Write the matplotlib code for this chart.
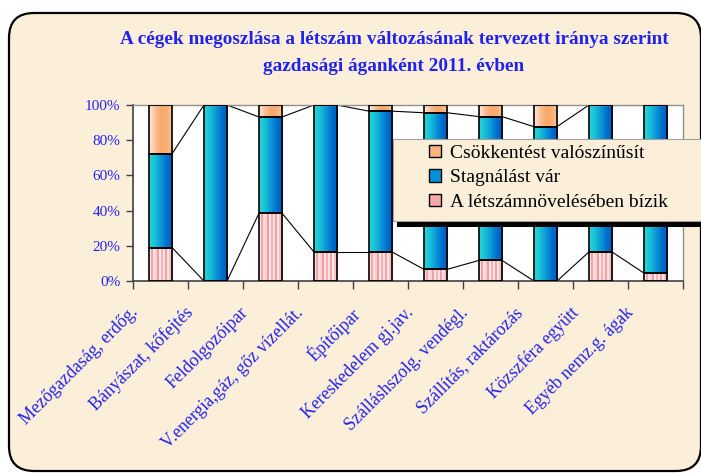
import numpy as np
import matplotlib
matplotlib.use("Agg")
import matplotlib.pyplot as plt
from matplotlib.patches import FancyBboxPatch, Rectangle, Patch
from matplotlib.colors import to_rgb
import matplotlib.transforms as mtransforms

# ---------------- data ----------------
categories = ["Mezőgazdaság, erdőg.", "Bányászat, kőfejtés", "Feldolgozóipar",
              "V.energia,gáz, gőz vízellát.", "Építőipar", "Kereskedelem gj.jav.",
              "Szálláshszolg. vendégl.", "Szállítás, raktározás",
              "Közszféra együtt", "Egyéb nemz.g. ágak"]
noveles = [19.0, 0.0, 38.5, 16.5, 16.5, 6.6, 11.7, 0.0, 16.5, 4.5]
stagnal = [53.3, 100.0, 54.7, 83.5, 80.0, 89.0, 81.7, 87.7, 83.5, 95.5]
csokkent = [27.7, 0.0, 6.8, 0.0, 3.5, 4.4, 6.6, 12.3, 0.0, 0.0]
series_names = ["A létszámnövelésében bízik", "Stagnálást vár", "Csökkentést valószínűsít"]
yticks = [0, 20, 40, 60, 80, 100]
ytick_labels = ["0%", "20%", "40%", "60%", "80%", "100%"]
title1 = "A cégek megoszlása a létszám változásának tervezett iránya szerint"
title2 = "gazdasági áganként 2011. évben"

SERIF = ["Liberation Serif", "DejaVu Serif"]
BLUE = "#2222EE"
BG = "#FBEFD9"

W, H = 701, 473
fig = plt.figure(figsize=(W / 100, H / 100), dpi=100)
fig.patch.set_facecolor("white")
inch = fig.dpi_scale_trans


def px(x, y):
    return x / 100, (H - y) / 100


# frame
x0, y0 = px(9, 471)
frame = FancyBboxPatch((x0, y0), (701 - 9) / 100, (471 - 13) / 100,
                       boxstyle="round,pad=0,rounding_size=0.25",
                       transform=inch, facecolor=BG, edgecolor="black",
                       linewidth=1.6, zorder=-10)
fig.patches.append(frame)

ax = fig.add_axes([133 / W, 1 - 281 / H, 550 / W, 176 / H])
ax.set_zorder(1)
ax.set_facecolor("white")

x = np.arange(len(categories))
width = 0.42

nov = np.array(noveles)
sta = np.array(stagnal)
cso = np.array(csokkent)


def grad_img(colors, n=64):
    cols = np.array([to_rgb(c) for c in colors])
    pos = np.linspace(0, 1, len(cols))
    t = np.linspace(0, 1, n)
    img = np.stack([np.interp(t, pos, cols[:, k]) for k in range(3)], axis=-1)
    return img[np.newaxis, :, :]


orange_img = grad_img(["#FFE8E0", "#FBC09A", "#F8A868", "#F8AE74", "#FBC89E"])
blue_img = grad_img(["#2AD6D2", "#18C0D8", "#0C98D8", "#0070CC", "#0058C0"])
stripe_cols = ["#FFE4E4", "#F7A3A6", "#FFE0E0", "#FBD0D0", "#F49AA0", "#FFE8E8",
               "#F8B0B2", "#FFE0E0", "#F6A0A4", "#FFE6E6", "#FAC0C0", "#F39CA0"]
stripe_img = np.array([[to_rgb(c) for c in stripe_cols]])

layers = [(nov, np.zeros_like(nov), stripe_img, "nearest"),
          (sta, nov, blue_img, "bilinear"),
          (cso, nov + sta, orange_img, "bilinear")]

for vals, bottoms, img, interp in layers:
    bars = ax.bar(x, vals, width, bottom=bottoms, facecolor="none",
                  edgecolor="black", linewidth=1.2, zorder=3)
    for r in bars:
        if r.get_height() <= 0:
            continue
        ax.imshow(img, extent=(r.get_x(), r.get_x() + r.get_width(),
                               r.get_y(), r.get_y() + r.get_height()),
                  aspect="auto", interpolation=interp, zorder=2)

# series lines
for tops in [nov, nov + sta]:
    for i in range(len(x) - 1):
        ax.plot([x[i] + width / 2, x[i + 1] - width / 2], [tops[i], tops[i + 1]],
                color="black", linewidth=0.8, zorder=2.5)

ax.set_xlim(-0.5, len(x) - 0.5)
ax.set_ylim(0, 100)
ax.set_yticks(yticks)
ax.set_yticklabels(ytick_labels, fontfamily=SERIF, fontsize=11, color=BLUE)
ax.tick_params(axis="y", length=5, width=1, color="#404040", pad=4)

ax.set_xticks(x)
ax.set_xticklabels(categories, rotation=45, ha="right", va="top",
                   rotation_mode="anchor", fontfamily=SERIF, fontsize=12.8,
                   color=BLUE)
ax.tick_params(axis="x", which="major", length=0, pad=0)
ax.set_xticks(np.arange(-0.5, len(x), 1.0), minor=True)
ax.tick_params(axis="x", which="minor", length=6, width=1, color="#404040")
offset = mtransforms.ScaledTranslation(-0.31, -0.23, inch)
for lab in ax.get_xticklabels():
    lab.set_transform(lab.get_transform() + offset)

for s in ["left", "bottom"]:
    ax.spines[s].set_color("#404040")
    ax.spines[s].set_linewidth(1.2)
for s in ["top", "right"]:
    ax.spines[s].set_color("#909090")
    ax.spines[s].set_linewidth(1.0)

# title
tx, ty = px(394, 39)
fig.text(tx, ty, title1, transform=inch, ha="center", va="center",
         fontfamily=SERIF, fontsize=13.9, fontweight="bold", color=BLUE)
tx, ty = px(394, 66)
fig.text(tx, ty, title2, transform=inch, ha="center", va="center",
         fontfamily=SERIF, fontsize=13.9, fontweight="bold", color=BLUE)

# legend box + shadow
sx, sy = px(397, 227)
fig.patches.append(Rectangle((sx, sy), 3.2, 0.07, transform=inch,
                             facecolor="black", edgecolor="none", zorder=5))
lx, ly = px(393, 221)
fig.patches.append(Rectangle((lx, ly), 3.2, 0.82, transform=inch,
                             facecolor=BG, edgecolor="#A0A0A0",
                             linewidth=0.8, zorder=6))

fills = ["#F7A7AA", "#0A90D6", "#F9B47E"]
handles = [Patch(facecolor=fills[i], edgecolor="black", linewidth=1.0)
           for i in (2, 1, 0)]
labels = [series_names[i] for i in (2, 1, 0)]
ax_x, ax_y = px(429, 145)
leg = fig.legend(handles, labels, loc="upper left", bbox_to_anchor=(ax_x, ax_y),
                 bbox_transform=inch, frameon=False, borderpad=0,
                 borderaxespad=0, handlelength=0.6, handleheight=0.6,
                 handletextpad=0.5, labelspacing=0.38,
                 prop={"family": SERIF, "size": 14})
leg.set_zorder(7)

fig.savefig("out.png", dpi=100, facecolor=fig.get_facecolor())
